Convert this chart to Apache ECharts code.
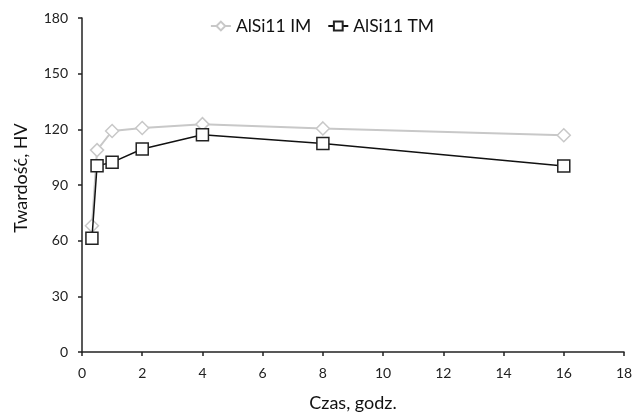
<!DOCTYPE html>
<html>
<head>
<meta charset="utf-8">
<script src="https://cdn.jsdelivr.net/npm/echarts@6/dist/echarts.min.js"></script>
<style>html,body{margin:0;padding:0;background:#fff}#c{width:644px;height:418px}</style>
</head>
<body>
<div id="c"></div>
<script>
var timeHours = [0.33, 0.5, 1, 2, 4, 8, 16];
var hvIM = [68.0, 108.8, 119.1, 120.7, 122.8, 120.5, 116.8];
var hvTM = [61.3, 100.4, 102.2, 109.4, 117.1, 112.4, 100.2];
var seriesNames = ['AlSi11 IM', 'AlSi11 TM'];
var xTicks = [0, 2, 4, 6, 8, 10, 12, 14, 16, 18];
var yTicks = [0, 30, 60, 90, 120, 150, 180];

function pairs(xs, ys) { return xs.map(function (x, i) { return [x, ys[i]]; }); }

var font = 'Lato, "Open Sans", sans-serif';
var chart = echarts.init(document.getElementById('c'), null, {renderer: 'canvas'});
chart.setOption({
  animation: false,
  textStyle: {fontFamily: font},
  grid: {left: 82, right: 20, top: 18, bottom: 66},
  legend: {
    top: 12, left: 'center', itemGap: 16, itemWidth: 20, itemHeight: 11,
    textStyle: {fontFamily: font, fontSize: 17.5, color: '#111'},
    data: seriesNames
  },
  xAxis: {
    type: 'value', min: xTicks[0], max: xTicks[xTicks.length - 1], interval: 2,
    name: 'Czas, godz.', nameLocation: 'middle', nameGap: 42,
    nameTextStyle: {fontFamily: font, fontSize: 18, color: '#111'},
    axisLine: {onZero: false, lineStyle: {color: '#222', width: 1.5}},
    axisTick: {show: true, inside: false, length: 4, lineStyle: {color: '#222', width: 1.5}},
    axisLabel: {fontFamily: font, fontSize: 14, color: '#222', margin: 14},
    splitLine: {show: false}
  },
  yAxis: {
    type: 'value', min: yTicks[0], max: yTicks[yTicks.length - 1], interval: 30,
    name: 'Twardość, HV', nameLocation: 'middle', nameGap: 52,
    nameTextStyle: {fontFamily: font, fontSize: 18, color: '#111', padding: [0, 0, 0, 14]},
    axisLine: {show: true, lineStyle: {color: '#222', width: 1.5}},
    axisTick: {show: true, inside: false, length: 4, lineStyle: {color: '#222', width: 1.5}},
    axisLabel: {fontFamily: font, fontSize: 14, color: '#222', margin: 14},
    splitLine: {show: false}
  },
  series: [
    {
      name: seriesNames[0], type: 'line', data: pairs(timeHours, hvIM),
      symbol: 'diamond', symbolSize: 13, showAllSymbol: true,
      lineStyle: {color: '#c8c8c8', width: 2},
      itemStyle: {color: '#fff', borderColor: '#c8c8c8', borderWidth: 1.5},
      z: 2
    },
    {
      name: seriesNames[1], type: 'line', data: pairs(timeHours, hvTM),
      symbol: 'rect', symbolSize: 12, showAllSymbol: true,
      lineStyle: {color: '#111', width: 1.5},
      itemStyle: {color: '#fff', borderColor: '#222', borderWidth: 1.5},
      z: 3
    }
  ]
});
</script>
</body>
</html>
